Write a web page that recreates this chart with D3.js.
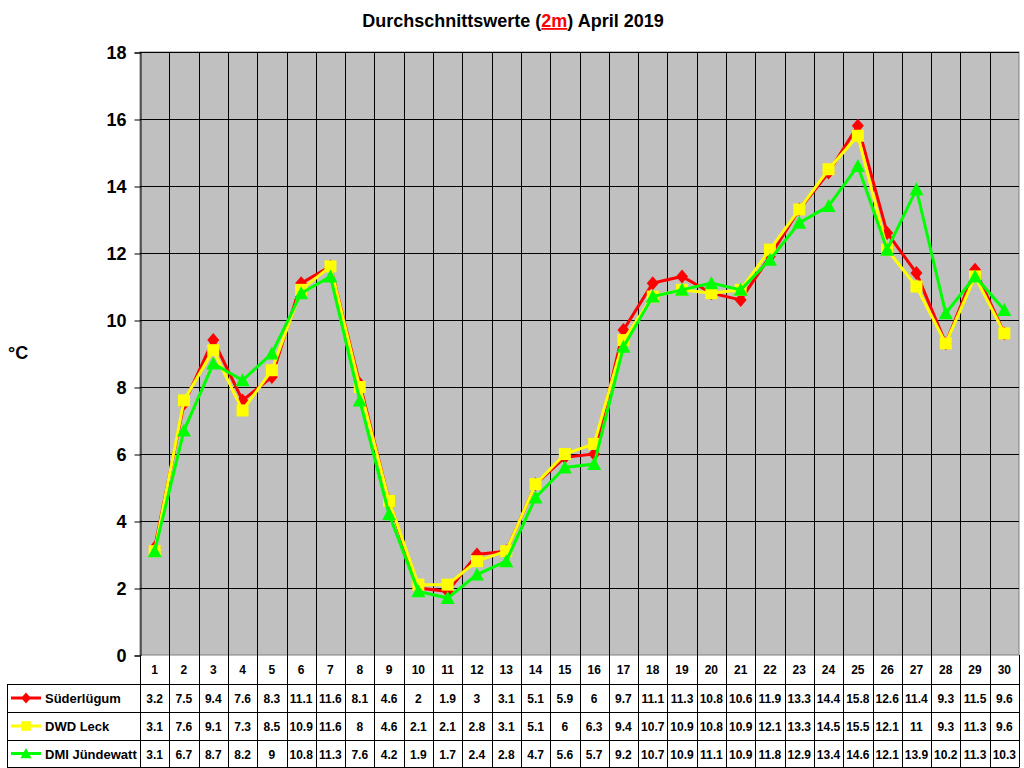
<!DOCTYPE html>
<html>
<head>
<meta charset="utf-8">
<script src="https://cdn.jsdelivr.net/npm/d3@7"></script>
<style>
  body { margin: 0; background: #fff; }
  text { font-family: Arial, "Liberation Sans", sans-serif; font-weight: bold; }
</style>
</head>
<body>
<svg id="chart" width="1024" height="768"></svg>
<script>
// Tage im April
var days = d3.range(1, 31);

// Messreihen
var suederluegum = [3.2, 7.5, 9.4, 7.6, 8.3, 11.1, 11.6, 8.1, 4.6, 2, 1.9, 3, 3.1, 5.1, 5.9, 6, 9.7, 11.1, 11.3, 10.8, 10.6, 11.9, 13.3, 14.4, 15.8, 12.6, 11.4, 9.3, 11.5, 9.6];
var dwdLeck = [3.1, 7.6, 9.1, 7.3, 8.5, 10.9, 11.6, 8, 4.6, 2.1, 2.1, 2.8, 3.1, 5.1, 6, 6.3, 9.4, 10.7, 10.9, 10.8, 10.9, 12.1, 13.3, 14.5, 15.5, 12.1, 11, 9.3, 11.3, 9.6];
var dmiJuendewatt = [3.1, 6.7, 8.7, 8.2, 9, 10.8, 11.3, 7.6, 4.2, 1.9, 1.7, 2.4, 2.8, 4.7, 5.6, 5.7, 9.2, 10.7, 10.9, 11.1, 10.9, 11.8, 12.9, 13.4, 14.6, 12.1, 13.9, 10.2, 11.3, 10.3];

var yTicks = [0, 2, 4, 6, 8, 10, 12, 14, 16, 18];

var series = [
  { name: "Süderlügum", values: suederluegum, color: "#ff0000", marker: "diamond" },
  { name: "DWD Leck", values: dwdLeck, color: "#ffff00", marker: "square" },
  { name: "DMI Jündewatt", values: dmiJuendewatt, color: "#00ff00", marker: "triangle" }
];

var svg = d3.select("#chart");
var plotLeft = 140, plotRight = 1019, plotTop = 52, plotBottom = 655;

var x = d3.scaleBand().domain(days).range([plotLeft, plotRight]);
var y = d3.scaleLinear().domain([0, 18]).range([plotBottom, plotTop]);

// Titel
var title = svg.append("text")
  .attr("x", 513).attr("y", 27)
  .attr("text-anchor", "middle")
  .style("font-size", "18px");
title.append("tspan").text("Durchschnittswerte (");
title.append("tspan").attr("fill", "#ff0000").style("text-decoration", "underline").text("2m");
title.append("tspan").text(") April 2019");

// Plotfläche
svg.append("rect")
  .attr("x", plotLeft).attr("y", plotTop)
  .attr("width", plotRight - plotLeft).attr("height", plotBottom - plotTop)
  .attr("fill", "#c0c0c0").attr("stroke", "#808080");

// Gitternetz horizontal
svg.append("g").selectAll("line").data(yTicks.slice(1)).enter().append("line")
  .attr("x1", plotLeft).attr("x2", plotRight)
  .attr("y1", function(d) { return Math.round(y(d)) + 0.5; })
  .attr("y2", function(d) { return Math.round(y(d)) + 0.5; })
  .attr("stroke", "#000");

// Gitternetz vertikal
svg.append("g").selectAll("line").data(days.slice(1)).enter().append("line")
  .attr("x1", function(d) { return Math.round(x(d)) + 0.5; })
  .attr("x2", function(d) { return Math.round(x(d)) + 0.5; })
  .attr("y1", plotTop).attr("y2", plotBottom)
  .attr("stroke", "#000");

// Y-Achse
var yAxis = svg.append("g")
  .attr("transform", "translate(" + (plotLeft + 0.5) + ",0.5)")
  .call(d3.axisLeft(y).tickValues(yTicks).tickSize(6).tickPadding(8));
yAxis.select(".domain").attr("stroke", "#000");
yAxis.selectAll("text").style("font-size", "18px").style("font-weight", "bold")
  .attr("font-family", "Arial, sans-serif").attr("fill", "#000");

svg.append("text").attr("x", 8).attr("y", 359).style("font-size", "18px").text("°C");

// Linien
var line = d3.line()
  .x(function(d, i) { return x(days[i]) + x.bandwidth() / 2; })
  .y(function(d) { return y(d); });

var markerPath = {
  diamond: "M0,-7L6,0L0,7L-6,0Z",
  square: "M-6,-6L6,-6L6,6L-6,6Z",
  triangle: "M0,-7L7,6L-7,6Z"
};

series.forEach(function(s) {
  var g = svg.append("g");
  g.append("path").datum(s.values)
    .attr("d", line)
    .attr("fill", "none")
    .attr("stroke", s.color)
    .attr("stroke-width", 3);
  g.selectAll("path.m").data(s.values).enter().append("path")
    .attr("class", "m")
    .attr("d", markerPath[s.marker])
    .attr("transform", function(d, i) {
      return "translate(" + (x(days[i]) + x.bandwidth() / 2) + "," + y(d) + ")";
    })
    .attr("fill", s.color);
});

// Datentabelle
var rowH = [655, 684, 712, 740, 767];
var tbl = svg.append("g");

// Kopfzeile
tbl.append("line").attr("x1", plotLeft + 0.5).attr("x2", plotLeft + 0.5).attr("y1", plotBottom).attr("y2", rowH[4]).attr("stroke", "#000");
days.forEach(function(d) {
  var xr = Math.round(x(d) + x.bandwidth()) + 0.5;
  tbl.append("line").attr("x1", xr).attr("x2", xr).attr("y1", plotBottom).attr("y2", rowH[4]).attr("stroke", "#000");
  tbl.append("text")
    .attr("x", x(d) + x.bandwidth() / 2).attr("y", 674)
    .attr("text-anchor", "middle").style("font-size", "12px").text(d);
});
tbl.append("line").attr("x1", 7.5).attr("x2", 7.5).attr("y1", rowH[1]).attr("y2", rowH[4]).attr("stroke", "#000");
rowH.slice(1).forEach(function(h) {
  tbl.append("line").attr("x1", 7).attr("x2", plotRight + 0.5)
    .attr("y1", h + 0.5).attr("y2", h + 0.5).attr("stroke", "#000");
});

series.forEach(function(s, r) {
  var cy = (rowH[r + 1] + rowH[r + 2]) / 2;
  tbl.append("line").attr("x1", 11).attr("x2", 41).attr("y1", cy).attr("y2", cy)
    .attr("stroke", s.color).attr("stroke-width", 3);
  tbl.append("path").attr("d", markerPath[s.marker])
    .attr("transform", "translate(26," + cy + ") scale(0.8)").attr("fill", s.color);
  tbl.append("text").attr("x", 45).attr("y", cy + 5).style("font-size", "13px").text(s.name);
  s.values.forEach(function(v, i) {
    tbl.append("text")
      .attr("x", x(days[i]) + x.bandwidth() / 2).attr("y", cy + 5)
      .attr("text-anchor", "middle").style("font-size", "12px").text(v);
  });
});
</script>
</body>
</html>
